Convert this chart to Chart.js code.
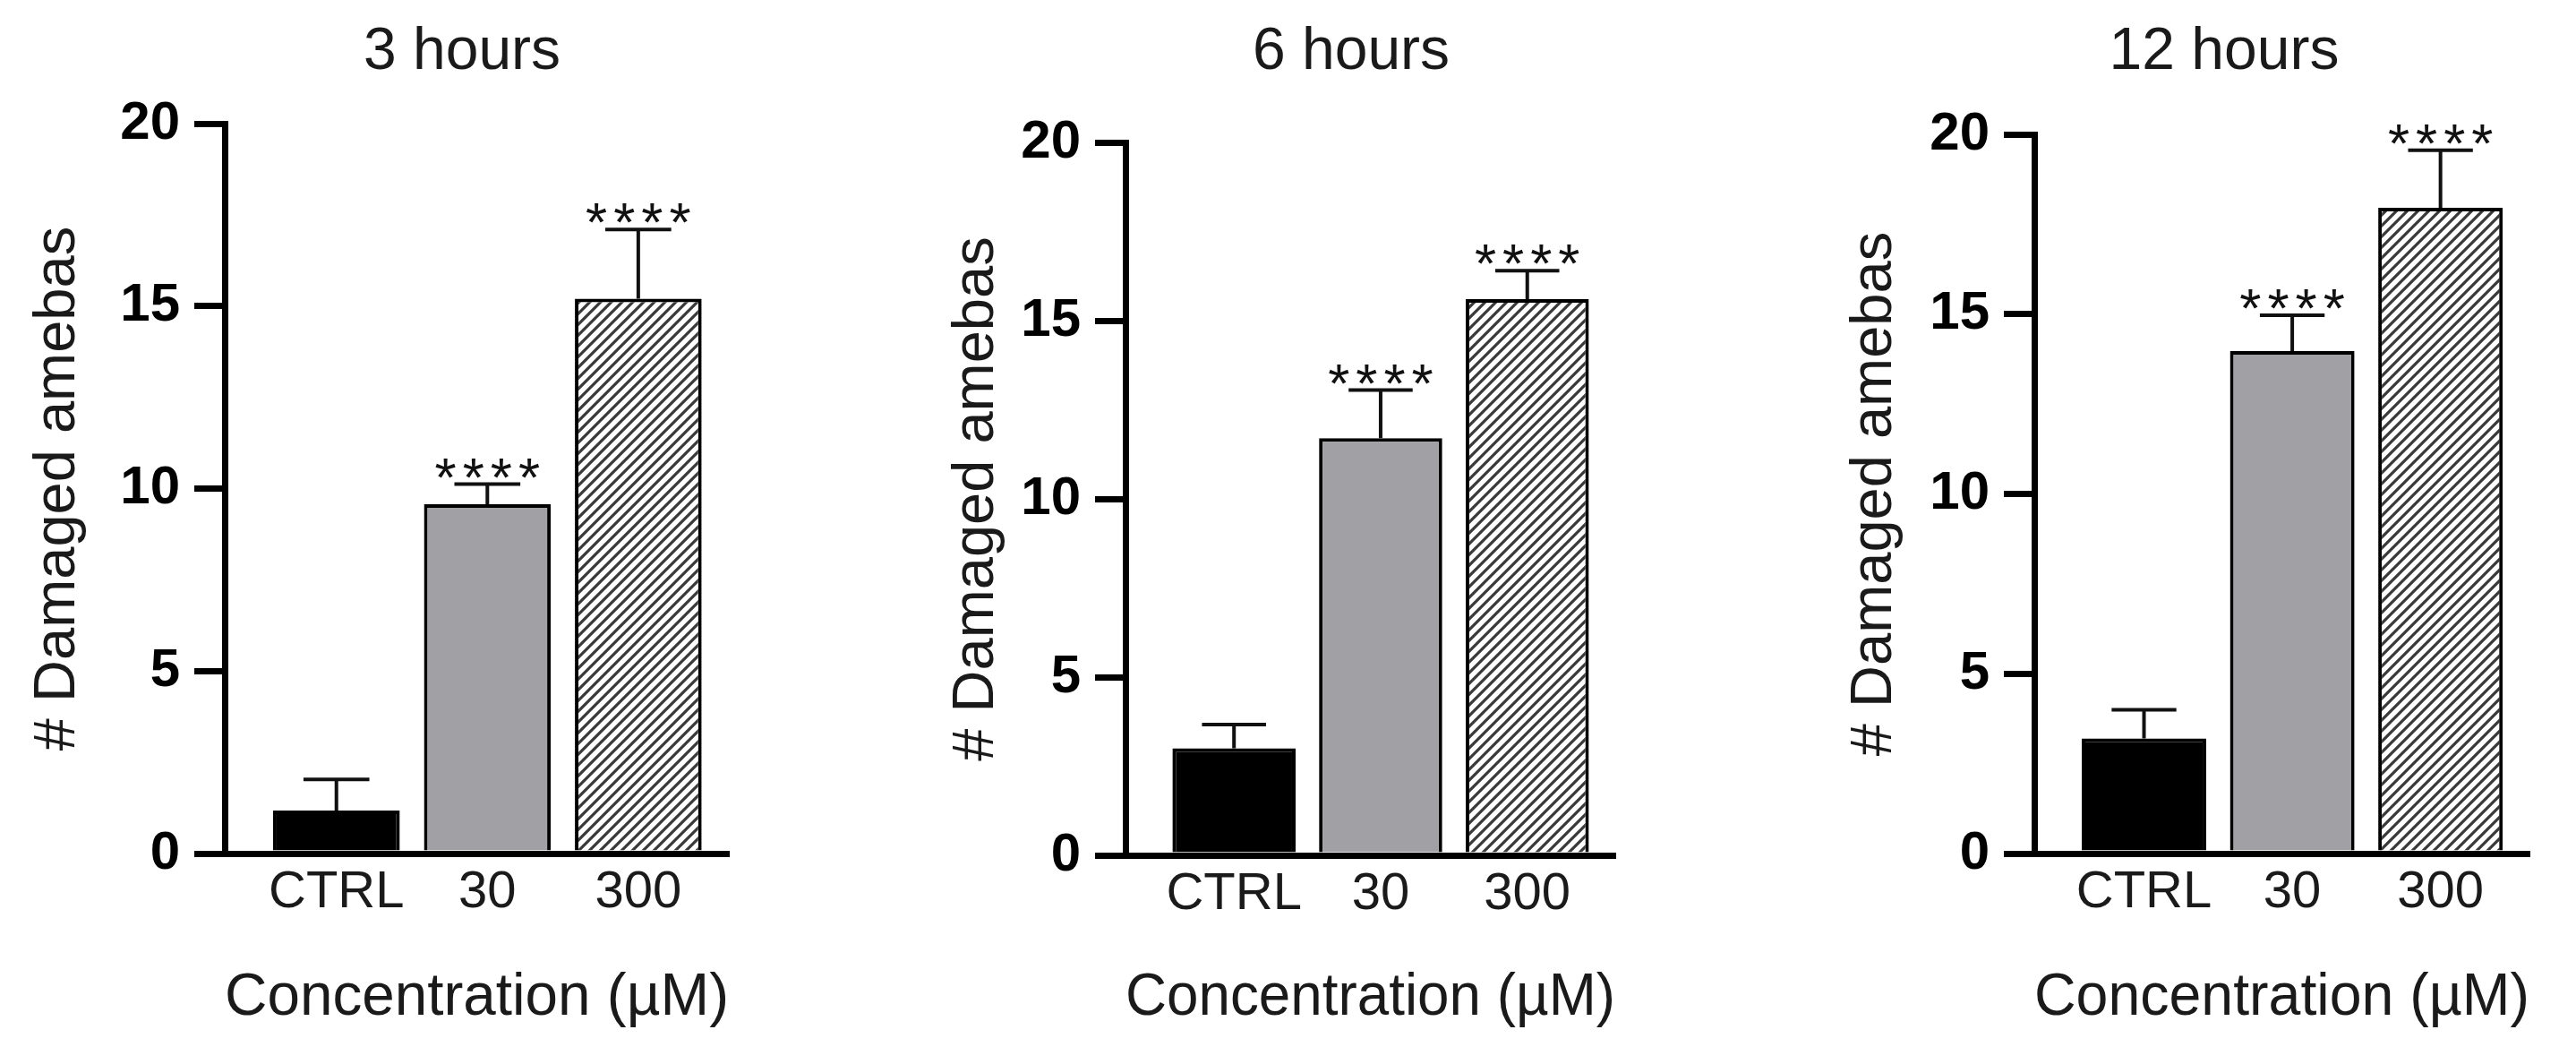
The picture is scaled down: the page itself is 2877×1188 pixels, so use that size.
<!DOCTYPE html>
<html>
<head>
<meta charset="utf-8">
<title>Damaged amebas</title>
<script src="https://cdn.jsdelivr.net/npm/chart.js@4/dist/chart.umd.min.js"></script>
<style>
  html, body { margin: 0; padding: 0; background: #fff; }
  body { width: 2877px; height: 1188px; position: relative; overflow: hidden; }
  canvas { position: absolute; top: 0; }
</style>
</head>
<body>
<canvas id="panel3h"></canvas>
<canvas id="panel6h"></canvas>
<canvas id="panel12h"></canvas>
<script>
// Data (mean + upper SEM)
const categories = ['CTRL', '30', '300'];
const yTicks = [0, 5, 10, 15, 20];
const stars = ['', '****', '****'];

const means3h = [1.18, 9.57, 15.2];
const sem3h = [0.85, 0.55, 1.9];
const means6h = [3.0, 11.7, 15.6];
const sem6h = [0.67, 1.35, 0.8];
const means12h = [3.2, 13.97, 17.96];
const sem12h = [0.8, 1.0, 1.6];

const FONT = "'Liberation Sans', Arial, sans-serif";
Chart.defaults.font.family = FONT;
Chart.defaults.color = '#111';

// diagonal hatch for the 300 uM bar
const makeHatch = () => {
  const s = 12;
  const c = document.createElement('canvas');
  c.width = c.height = s;
  const g = c.getContext('2d');
  g.fillStyle = '#fff';
  g.fillRect(0, 0, s, s);
  g.strokeStyle = '#3a3a3a';
  g.lineWidth = 3.2;
  g.beginPath();
  g.moveTo(0, s); g.lineTo(s, 0);
  g.moveTo(-s / 2, s / 2); g.lineTo(s / 2, -s / 2);
  g.moveTo(s / 2, s * 1.5); g.lineTo(s * 1.5, s / 2);
  g.stroke();
  return g.createPattern(c, 'repeat');
};

// upper error whisker + significance stars
const errorBars = {
  id: 'errorBars',
  afterDatasetsDraw(chart, args, opts) {
    const { ctx } = chart;
    const yScale = chart.scales.y;
    const meta = chart.getDatasetMeta(0);
    const data = chart.data.datasets[0].data;
    ctx.save();
    meta.data.forEach((bar, i) => {
      const top = yScale.getPixelForValue(data[i].y + opts.errors[i]);
      const half = bar.width * 0.26;
      ctx.strokeStyle = '#111';
      ctx.lineWidth = 4;
      ctx.beginPath();
      ctx.moveTo(bar.x, bar.y);
      ctx.lineTo(bar.x, top);
      ctx.moveTo(bar.x - half, top);
      ctx.lineTo(bar.x + half, top);
      ctx.stroke();

      const mark = opts.stars[i];
      if (mark) {
        ctx.font = `62px ${FONT}`;
        ctx.letterSpacing = '7px';
        ctx.fillStyle = '#111';
        ctx.textAlign = 'center';
        ctx.textBaseline = 'alphabetic';
        const m = ctx.measureText(mark);
        ctx.fillText(mark, bar.x + 3.5, top - 7 - m.actualBoundingBoxDescent);
      }
    });
    ctx.restore();
  }
};

// panel heading, placed relative to the plot area (it is not centred on it)
const panelTitle = {
  id: 'panelTitle',
  afterDraw(chart, args, opts) {
    const { ctx, chartArea } = chart;
    ctx.save();
    ctx.font = `66px ${FONT}`;
    ctx.fillStyle = '#1a1a1a';
    ctx.textAlign = 'center';
    ctx.textBaseline = 'middle';
    ctx.fillText(opts.text, chartArea.left + opts.dx, opts.y);
    ctx.restore();
  }
};

// canvas placement for each panel
const panels = [
  { id: 'panel3h', title: '3 hours', means: means3h, sem: sem3h,
    left: 0, width: 824, padLeft: 20, yWidth: 231, top: 138, titleDx: 265, xHeight: 235 },
  { id: 'panel6h', title: '6 hours', means: means6h, sem: sem6h,
    left: 1000, width: 814, padLeft: 46, yWidth: 211, top: 159, titleDx: 252, xHeight: 233 },
  { id: 'panel12h', title: '12 hours', means: means12h, sem: sem12h,
    left: 2000, width: 835, padLeft: 49, yWidth: 223, top: 150, titleDx: 212, xHeight: 235 },
];

const hatch = makeHatch();

panels.forEach(p => {
  const canvas = document.getElementById(p.id);
  canvas.width = p.width;
  canvas.height = 1188;
  canvas.style.left = p.left + 'px';

  new Chart(canvas.getContext('2d'), {
    type: 'bar',
    data: {
      datasets: [{
        data: p.means.map((v, i) => ({ x: i + 1, y: v })),
        backgroundColor: ['#000000', '#a1a1a5', hatch],
        borderColor: '#000',
        borderWidth: 4,
        barPercentage: 0.84,
        categoryPercentage: 1,
      }],
    },
    options: {
      responsive: false,
      animation: false,
      events: [],
      layout: { padding: { left: p.padLeft, right: 10, top: p.top, bottom: 0 } },
      plugins: {
        legend: { display: false },
        tooltip: { enabled: false },
        title: { display: false },
        panelTitle: { text: p.title, dx: p.titleDx, y: 59 },
        errorBars: { errors: p.sem, stars },
      },
      scales: {
        x: {
          type: 'linear',
          min: 0.26,
          max: 3.6,
          offset: false,
          afterBuildTicks: s => { s.ticks = categories.map((c, i) => ({ value: i + 1 })); },
          afterFit: s => { s.height = p.xHeight; },
          ticks: {
            callback: v => categories[v - 1] ?? '',
            color: '#1a1a1a',
            font: { size: 58 },
            padding: 9,
            maxRotation: 0,
            autoSkip: false,
          },
          grid: { display: false, drawTicks: false, offset: false },
          border: { display: true, color: '#000', width: 7 },
          title: {
            display: true,
            text: 'Concentration (µM)',
            color: '#1a1a1a',
            font: { size: 66 },
            padding: { top: 0, bottom: 34 },
          },
        },
        y: {
          min: 0,
          max: 20,
          afterBuildTicks: s => { s.ticks = yTicks.map(v => ({ value: v })); },
          afterFit: s => { s.width = p.yWidth; },
          ticks: {
            color: '#000',
            font: { size: 60, weight: 'bold' },
            padding: 16,
          },
          grid: {
            drawOnChartArea: false,
            drawTicks: true,
            tickLength: 34,
            lineWidth: 7,
            color: '#000',
          },
          border: { display: true, color: '#000', width: 7 },
          title: {
            display: true,
            text: '# Damaged amebas',
            color: '#1a1a1a',
            font: { size: 65 },
            padding: { top: 6, bottom: 0 },
          },
        },
      },
    },
    plugins: [errorBars, panelTitle],
  });
});
</script>
</body>
</html>
